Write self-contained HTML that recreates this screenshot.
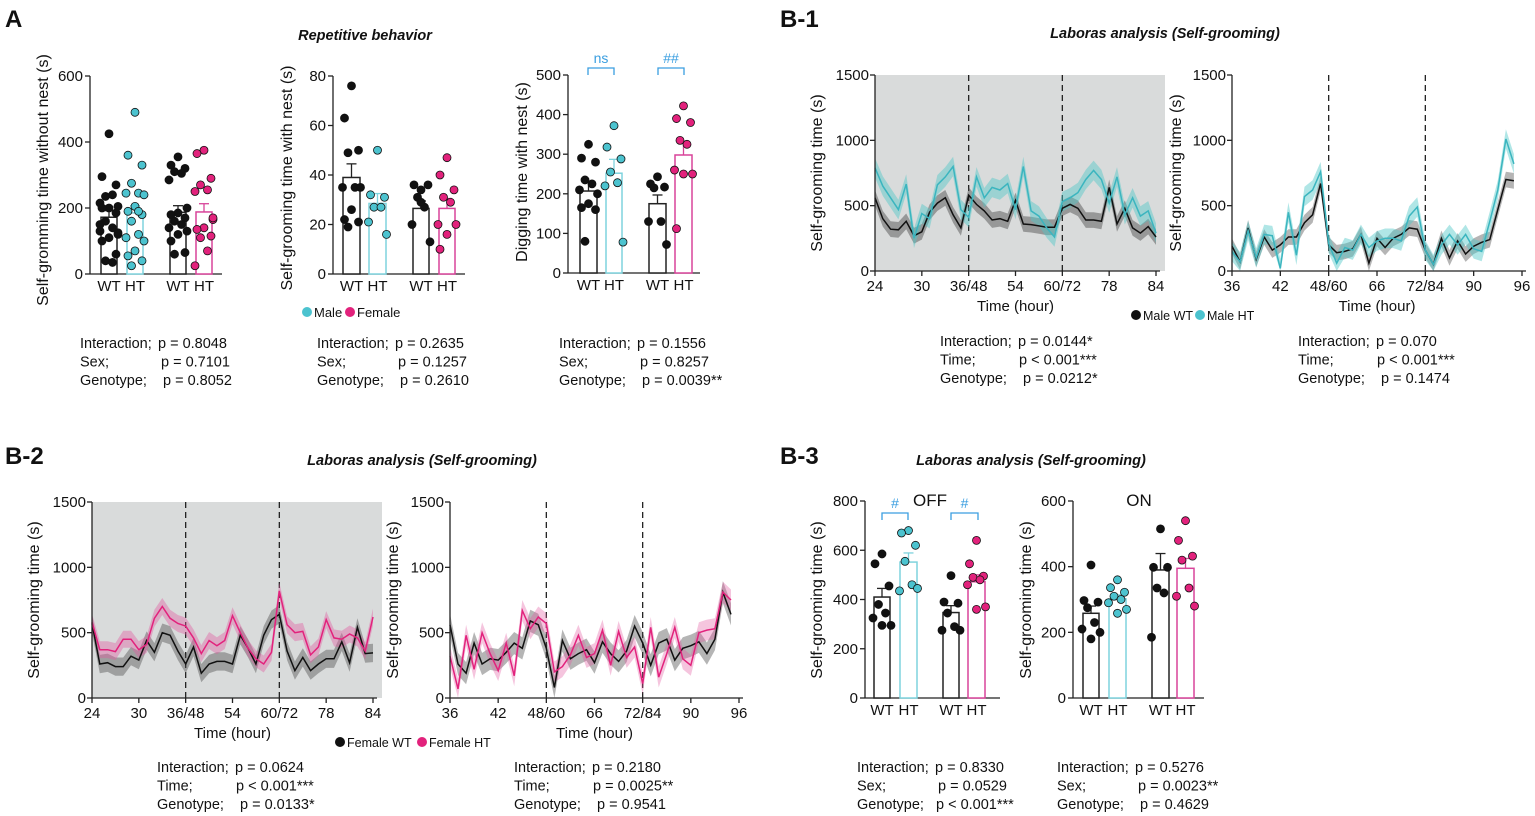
<!DOCTYPE html>
<html><head><meta charset="utf-8"><style>
html,body{margin:0;padding:0;background:#fff;}
svg{display:block;font-family:"Liberation Sans",Arial,sans-serif;}
</style></head><body>
<svg id="fig" width="1535" height="816" viewBox="0 0 1535 816" xmlns="http://www.w3.org/2000/svg"></svg>
<script>
// ---------- DATA ----------
const groupLabels = ["WT","HT","WT","HT"];
const a1Means = [172,185,187,188];
const a1Sems = [20,22,20,25];
const a1Pts = [
 [425,295,270,235,240,215,205,200,200,185,160,140,130,120,110,100,60,40,35,150,125],
 [490,360,330,275,245,245,240,205,190,180,160,120,110,100,70,55,40,25,190],
 [355,330,320,310,305,285,200,185,180,170,160,150,140,130,120,100,65,60],
 [375,365,290,270,255,250,165,140,135,115,110,70,25,170]
];
const a2Means = [39,28.5,26.5,26.5];
const a2Sems = [5.5,4,3,4];
const a2Pts = [
 [76,63,50,49,35,35,35,26,22,21,19],
 [50,32,31,27,27,21,16],
 [34,36,36,31,27,20,13,29],
 [47,40,34,31,29,20,20,16,10]
];
const a3Means = [207,252,175,298];
const a3Sems = [22,35,22,30];
const a3Pts = [
 [325,290,280,235,225,210,200,175,165,160,80],
 [372,318,288,255,228,220,78],
 [243,225,217,215,130,130,72],
 [422,390,380,335,325,260,250,250,112]
];
const offMeans = [410,552,347,472];
const offSems = [35,37,28,28];
const offPts = [
 [585,545,455,380,345,325,295,295],
 [680,670,620,555,460,435,445],
 [497,390,385,345,290,275,275],
 [640,545,495,490,480,460,370,360]
];
const onMeans = [258,302,390,395];
const onSems = [22,12,50,30];
const onPts = [
 [405,297,292,275,230,210,200,180],
 [360,336,322,310,300,290,270,258],
 [515,398,398,335,320,185],
 [540,480,432,420,335,310,280]
];
const ticksLeft = ["24","30","36/48","54","60/72","78","84"];
const ticksRight = ["36","42","48/60","66","72/84","90","96"];
const maleWTLeft = [560,400,320,315,380,270,300,450,520,560,430,330,580,510,460,390,400,380,540,360,355,345,335,335,480,510,480,390,390,380,640,360,480,330,290,340,260];
const maleHTLeft = [790,650,560,470,665,250,440,400,660,720,800,470,410,720,560,640,620,670,470,800,460,420,330,260,530,560,600,700,770,700,520,720,430,560,420,460,290];
const maleWTRight = [190,70,330,90,260,160,200,260,260,370,430,670,200,140,150,170,280,60,250,180,250,280,330,320,160,50,250,100,230,130,190,220,240,470,700,690];
const maleHTRight = [150,70,310,100,280,270,20,450,120,570,620,760,210,60,180,160,280,180,230,250,250,230,420,490,160,50,200,280,200,280,170,150,380,620,1010,820];
const femWTLeft = [570,260,270,240,240,320,290,440,350,500,480,360,260,390,190,260,280,280,260,480,380,260,480,600,640,360,210,310,210,260,300,300,430,270,540,340,345];
const femHTLeft = [580,370,370,355,450,450,370,410,610,700,610,570,550,460,340,440,400,440,630,500,380,300,260,350,820,560,500,510,330,390,600,460,450,490,460,360,620];
const femWTRight = [560,260,190,420,260,300,290,350,420,380,590,560,380,80,440,300,340,370,270,430,340,280,360,550,420,250,420,450,290,380,400,430,340,450,810,640];
const femHTRight = [320,70,480,220,500,340,210,420,170,670,530,620,570,200,240,330,480,310,340,520,250,510,310,390,110,540,160,340,540,300,250,500,520,530,810,750];
const semMaleWT = 60, semMaleHT = 75, semFemWT = 70, semFemHT = 65;

// ---------- HELPERS ----------
const NS = "http://www.w3.org/2000/svg";
const svg = document.getElementById("fig");
const CYAN = "#4cc3cf", CYANLINE = "#3bb5bf", CYANBAR = "#7fd3dd", MAG = "#e2227c", MAGBAR = "#d8449a", BLUE = "#3a9ee0";
function mk(tag, attrs, parent){
  const el = document.createElementNS(NS, tag);
  for (const k in attrs) el.setAttribute(k, attrs[k]);
  (parent || svg).appendChild(el);
  return el;
}
function text(x, y, s, size, opts, parent){
  const el = mk("text", {x:x, y:y, "font-size":size, fill:(opts&&opts.fill)||"#111"}, parent);
  if (opts && opts.anchor) el.setAttribute("text-anchor", opts.anchor);
  if (opts && opts.weight) el.setAttribute("font-weight", opts.weight);
  if (opts && opts.style) el.setAttribute("font-style", opts.style);
  if (opts && opts.rot) el.setAttribute("transform", "rotate(-90 " + x + " " + y + ")");
  el.textContent = s;
  return el;
}
function named(el, name){
  
  
  return el;
}

function barPanel(id, cfg, means, sems, pts){
  const g = mk("g", {});
  
  
  const yOf = v => cfg.y0 - v / cfg.max * (cfg.y0 - cfg.yTop);
  const ya = mk("line", {x1:cfg.ax, y1:cfg.yTop, x2:cfg.ax, y2:cfg.y0, stroke:"#222", "stroke-width":1.3}, g);
  named(ya, id + "-y-axis");
  const xa = mk("line", {x1:cfg.ax, y1:cfg.y0, x2:cfg.xEnd, y2:cfg.y0, stroke:"#222", "stroke-width":1.3}, g);
  named(xa, id + "-x-axis");
  cfg.ticks.forEach(t => {
    mk("line", {x1:cfg.ax-5, y1:yOf(t), x2:cfg.ax, y2:yOf(t), stroke:"#222", "stroke-width":1.3}, g);
    const tl = text(cfg.ax-7, yOf(t)+5, String(t), 15, {anchor:"end"}, g);
    named(tl, id + "-tick-label");
  });
  const colors = ["#222", CYANBAR, "#222", MAGBAR];
  const dotFill = ["#111", CYAN, "#111", MAG];
  means.forEach((m, i) => {
    const b = cfg.bars[i];
    const cx = (b[0]+b[1])/2;
    const bar = mk("rect", {x:b[0], y:yOf(m), width:b[1]-b[0], height:cfg.y0-yOf(m), fill:"#fff", stroke:colors[i], "stroke-width":1.5}, g);
    named(bar, id + "-bar-" + (i+1));
    const top = yOf(m + sems[i]);
    mk("line", {x1:cx, y1:yOf(m), x2:cx, y2:top, stroke:colors[i], "stroke-width":1.3}, g);
    mk("line", {x1:cx-5, y1:top, x2:cx+5, y2:top, stroke:colors[i], "stroke-width":1.3}, g);
    pts[i].forEach((v, j) => {
      const off = [0,-7,7,-3.5,3.5,-9,9][j % 7];
      const d = mk("circle", {cx:cx+off, cy:yOf(v), r:4, fill:dotFill[i], stroke:"#111", "stroke-width":0.8}, g);
      named(d, id + "-point");
    });
    const gl = text(cx, cfg.y0+17, groupLabels[i], 15, {anchor:"middle"}, g);
    named(gl, id + "-group-label");
  });
  return g;
}

function bracket(x1, x2, y, label, name){
  const p = mk("path", {d:"M"+x1+" "+(y+7)+"V"+y+"H"+x2+"V"+(y+7), fill:"none", stroke:BLUE, "stroke-width":1.3});
  named(p, name + "-bracket");
  const t = text((x1+x2)/2, y-5, label, 14, {anchor:"middle", fill:BLUE});
  named(t, name + "-label");
}

function tsPanel(id, cfg, series, tickLabels){
  const g = mk("g", {});
  
  
  const xOf = i => cfg.ax + i * (cfg.xEnd - cfg.ax) / 36;
  const yOf = v => cfg.y0 - Math.max(0, v) / 1500 * (cfg.y0 - cfg.yTop);
  if (cfg.bg){
    const bg = mk("rect", {x:cfg.ax, y:cfg.yTop, width:cfg.bgEnd-cfg.ax, height:cfg.y0-cfg.yTop, fill:"#d9dbdb"}, g);
    named(bg, id + "-dark-phase-shading");
  }
  [12, 24].forEach(i => {
    const dl = mk("line", {x1:xOf(i), y1:cfg.yTop, x2:xOf(i), y2:cfg.y0, stroke:"#222", "stroke-width":1.3, "stroke-dasharray":"6,4"}, g);
    named(dl, id + "-day-divider");
  });
  series.forEach(s => {
    let up = "", dn = "";
    s.vals.forEach((v, i) => { up += (i ? "L" : "M") + xOf(i).toFixed(1) + " " + yOf(v + s.sem).toFixed(1); });
    for (let i = s.vals.length - 1; i >= 0; i--) dn += "L" + xOf(i).toFixed(1) + " " + yOf(s.vals[i] - s.sem).toFixed(1);
    const band = mk("path", {d:up + dn + "Z", fill:s.band}, g);
    named(band, id + "-" + s.name + "-sem-band");
  });
  series.forEach(s => {
    let d = "";
    s.vals.forEach((v, i) => { d += (i ? "L" : "M") + xOf(i).toFixed(1) + " " + yOf(v).toFixed(1); });
    const ln = mk("path", {d:d, fill:"none", stroke:s.color, "stroke-width":1.5}, g);
    named(ln, id + "-" + s.name + "-line");
  });
  mk("line", {x1:cfg.ax, y1:cfg.yTop, x2:cfg.ax, y2:cfg.y0, stroke:"#222", "stroke-width":1.3}, g);
  mk("line", {x1:cfg.ax, y1:cfg.y0, x2:cfg.xEnd+4, y2:cfg.y0, stroke:"#222", "stroke-width":1.3}, g);
  [0,500,1000,1500].forEach(t => {
    mk("line", {x1:cfg.ax-5, y1:yOf(t), x2:cfg.ax, y2:yOf(t), stroke:"#222", "stroke-width":1.3}, g);
    const tl = text(cfg.ax-6, yOf(t)+5, String(t), 15, {anchor:"end"}, g);
    named(tl, id + "-y-tick-label");
  });
  tickLabels.forEach((lab, k) => {
    const x = xOf(k*6);
    mk("line", {x1:x, y1:cfg.y0, x2:x, y2:cfg.y0+5, stroke:"#222", "stroke-width":1.3}, g);
    const tl = text(x, cfg.y0+20, lab, 15, {anchor:"middle"}, g);
    named(tl, id + "-x-tick-label");
  });
  const xt = text((cfg.ax+cfg.xEnd)/2, cfg.y0+40, "Time (hour)", 15, {anchor:"middle"}, g);
  named(xt, id + "-x-axis-title");
  const yt = text(cfg.ylx, (cfg.yTop+cfg.y0)/2, "Self-grooming time (s)", 16, {anchor:"middle", rot:true}, g);
  named(yt, id + "-y-axis-title");
}

function stats(x, y, lines, name){
  lines.forEach((ln, i) => {
    const a = text(x, y + i*18.5, ln[0], 14.5, {});
    named(a, name + "-stat-label");
    const b = text(x + ln[2], y + i*18.5, ln[1], 14.5, {});
    named(b, name + "-stat-value");
  });
}

// ---------- PANEL LETTERS & TITLES ----------
named(text(5, 27, "A", 24, {weight:"bold"}), "panel-letter-a");
named(text(780, 27, "B-1", 24, {weight:"bold"}), "panel-letter-b1");
named(text(5, 464, "B-2", 24, {weight:"bold"}), "panel-letter-b2");
named(text(780, 464, "B-3", 24, {weight:"bold"}), "panel-letter-b3");
named(text(365, 40, "Repetitive behavior", 14.5, {anchor:"middle", weight:"bold", style:"italic"}), "title-repetitive-behavior");
named(text(1165, 38, "Laboras analysis (Self-grooming)", 14.5, {anchor:"middle", weight:"bold", style:"italic"}), "title-b1");
named(text(422, 465, "Laboras analysis (Self-grooming)", 14.5, {anchor:"middle", weight:"bold", style:"italic"}), "title-b2");
named(text(1031, 465, "Laboras analysis (Self-grooming)", 14.5, {anchor:"middle", weight:"bold", style:"italic"}), "title-b3");

// ---------- PANEL A ----------
barPanel("a1-chart", {ax:90, y0:274, yTop:76, max:600, xEnd:222, ticks:[0,200,400,600], bars:[[101,117],[127,143],[170,186],[196,212]]}, a1Means, a1Sems, a1Pts);
named(text(48, 180, "Self-gromming time without nest (s)", 16, {anchor:"middle", rot:true}), "a1-y-axis-title");
barPanel("a2-chart", {ax:333, y0:274, yTop:76, max:80, xEnd:465, ticks:[0,20,40,60,80], bars:[[343,360],[369,386],[413,429],[439,455]]}, a2Means, a2Sems, a2Pts);
named(text(292, 178, "Self-grooming time with nest (s)", 16, {anchor:"middle", rot:true}), "a2-y-axis-title");
barPanel("a3-chart", {ax:568, y0:273, yTop:75, max:500, xEnd:700, ticks:[0,100,200,300,400,500], bars:[[580,597],[606,622],[649,666],[675,692]]}, a3Means, a3Sems, a3Pts);
named(text(527, 172, "Digging time with nest (s)", 16, {anchor:"middle", rot:true}), "a3-y-axis-title");
bracket(588, 614, 68, "ns", "a3-ns");
bracket(658, 684, 68, "##", "a3-hash");
named(mk("circle", {cx:307, cy:312, r:5, fill:CYAN}), "legend-male-marker");
named(text(314, 317, "Male", 13), "legend-male-label");
named(mk("circle", {cx:350, cy:312, r:5, fill:MAG}), "legend-female-marker");
named(text(357, 317, "Female", 13), "legend-female-label");
stats(80, 348, [["Interaction;","p = 0.8048",78],["Sex;","p = 0.7101",81],["Genotype;","p = 0.8052",83]], "a1");
stats(317, 348, [["Interaction;","p = 0.2635",78],["Sex;","p = 0.1257",81],["Genotype;","p = 0.2610",83]], "a2");
stats(559, 348, [["Interaction;","p = 0.1556",78],["Sex;","p = 0.8257",81],["Genotype;","p = 0.0039**",83]], "a3");

// ---------- PANEL B-1 ----------
tsPanel("b1-left-chart", {ax:875, xEnd:1156, y0:271, yTop:75, bg:true, bgEnd:1165, ylx:822},
  [{name:"male-wt", vals:maleWTLeft, sem:semMaleWT, color:"#111", band:"rgba(70,70,70,0.45)"},
   {name:"male-ht", vals:maleHTLeft, sem:semMaleHT, color:CYANLINE, band:"rgba(80,200,200,0.45)"}], ticksLeft);
tsPanel("b1-right-chart", {ax:1232, xEnd:1522, y0:271, yTop:75, bg:false, ylx:1181},
  [{name:"male-wt", vals:maleWTRight, sem:semMaleWT, color:"#111", band:"rgba(70,70,70,0.4)"},
   {name:"male-ht", vals:maleHTRight, sem:semMaleHT, color:CYANLINE, band:"rgba(80,200,200,0.45)"}], ticksRight);
named(mk("circle", {cx:1136, cy:315, r:5, fill:"#111"}), "legend-male-wt-marker");
named(text(1143, 320, "Male WT", 12.5), "legend-male-wt-label");
named(mk("circle", {cx:1200, cy:315, r:5, fill:CYAN}), "legend-male-ht-marker");
named(text(1207, 320, "Male HT", 12.5), "legend-male-ht-label");
stats(940, 346, [["Interaction;","p = 0.0144*",78],["Time;","p < 0.001***",79],["Genotype;","p = 0.0212*",83]], "b1-left");
stats(1298, 346, [["Interaction;","p = 0.070",78],["Time;","p < 0.001***",79],["Genotype;","p = 0.1474",83]], "b1-right");

// ---------- PANEL B-2 ----------
tsPanel("b2-left-chart", {ax:92, xEnd:373, y0:698, yTop:502, bg:true, bgEnd:382, ylx:39},
  [{name:"female-wt", vals:femWTLeft, sem:semFemWT, color:"#111", band:"rgba(70,70,70,0.4)"},
   {name:"female-ht", vals:femHTLeft, sem:semFemHT, color:MAG, band:"rgba(225,90,160,0.4)"}], ticksLeft);
tsPanel("b2-right-chart", {ax:450, xEnd:739, y0:698, yTop:502, bg:false, ylx:398},
  [{name:"female-wt", vals:femWTRight, sem:semFemWT+15, color:"#111", band:"rgba(70,70,70,0.4)"},
   {name:"female-ht", vals:femHTRight, sem:semFemHT+15, color:MAG, band:"rgba(225,90,160,0.35)"}], ticksRight);
named(mk("circle", {cx:340, cy:742, r:5, fill:"#111"}), "legend-female-wt-marker");
named(text(347, 747, "Female WT", 12.5), "legend-female-wt-label");
named(mk("circle", {cx:422, cy:742, r:5, fill:MAG}), "legend-female-ht-marker");
named(text(429, 747, "Female HT", 12.5), "legend-female-ht-label");
stats(157, 772, [["Interaction;","p = 0.0624",78],["Time;","p < 0.001***",79],["Genotype;","p = 0.0133*",83]], "b2-left");
stats(514, 772, [["Interaction;","p = 0.2180",78],["Time;","p = 0.0025**",79],["Genotype;","p = 0.9541",83]], "b2-right");

// ---------- PANEL B-3 ----------
barPanel("b3-off-chart", {ax:865, y0:698, yTop:501, max:800, xEnd:1000, ticks:[0,200,400,600,800], bars:[[874,890],[900,917],[943,959],[968,985]]}, offMeans, offSems, offPts);
named(text(822, 600, "Self-grooming time (s)", 16, {anchor:"middle", rot:true}), "b3-off-y-axis-title");
named(text(930, 506, "OFF", 17, {anchor:"middle"}), "b3-off-title");
bracket(882, 908, 513, "#", "b3-off-male");
bracket(951, 978, 513, "#", "b3-off-female");
barPanel("b3-on-chart", {ax:1073, y0:698, yTop:501, max:600, xEnd:1204, ticks:[0,200,400,600], bars:[[1083,1099],[1109,1126],[1152,1169],[1177,1194]]}, onMeans, onSems, onPts);
named(text(1031, 600, "Self-grooming time (s)", 16, {anchor:"middle", rot:true}), "b3-on-y-axis-title");
named(text(1139, 506, "ON", 17, {anchor:"middle"}), "b3-on-title");
stats(857, 772, [["Interaction;","p = 0.8330",78],["Sex;","p = 0.0529",81],["Genotype;","p < 0.001***",79]], "b3-off");
stats(1057, 772, [["Interaction;","p = 0.5276",78],["Sex;","p = 0.0023**",81],["Genotype;","p = 0.4629",83]], "b3-on");
</script>
</body></html>
